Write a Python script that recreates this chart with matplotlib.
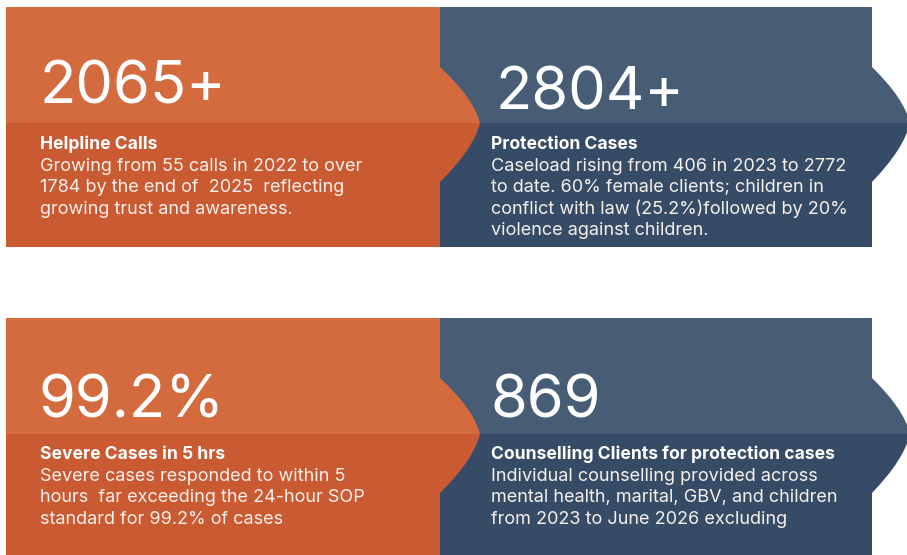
import matplotlib.pyplot as plt
from matplotlib.path import Path
from matplotlib.patches import PathPatch, Rectangle

plt.rcParams['font.family'] = ['Inter', 'DejaVu Sans']

# card contents
values = ["2065+", "2804+", "99.2%", "869"]
titles = ["Helpline Calls", "Protection Cases",
          "Severe Cases in 5 hrs", "Counselling Clients for protection cases"]
descriptions = [
    ["Growing from 55 calls in 2022 to over",
     "1784 by the end of  2025  reflecting",
     "growing trust and awareness."],
    ["Caseload rising from 406 in 2023 to 2772",
     "to date. 60% female clients; children in",
     "conflict with law (25.2%)followed by 20%",
     "violence against children."],
    ["Severe cases responded to within 5",
     "hours  far exceeding the 24-hour SOP",
     "standard for 99.2% of cases"],
    ["Individual counselling provided across",
     "mental health, marital, GBV, and children",
     "from 2023 to June 2026 excluding"],
]

orange_top, orange_bot = "#d46b3e", "#c95a32"
blue_top, blue_bot = "#475d75", "#364c66"

fig = plt.figure(figsize=(9.07, 5.55), dpi=100)
ax = fig.add_axes([0, 0, 1, 1])
ax.set_xlim(0, 907)
ax.set_ylim(555, 0)
ax.axis("off")


def card(x0, x1, top, bottom, split, tip, c_top, c_bot, z):
    # rectangle with a pointed, curved arrow on the right side
    b0, b1 = split - 56, split + 59
    w = tip - x1
    verts = [(x0, top), (x1, top), (x1, b0),
             (x1 + 0.84 * w, split - 25), (tip, split),
             (x1 + 0.84 * w, split + 26), (x1, b1),
             (x1, bottom), (x0, bottom), (x0, top)]
    codes = [Path.MOVETO, Path.LINETO, Path.LINETO,
             Path.CURVE3, Path.CURVE3,
             Path.CURVE3, Path.CURVE3,
             Path.LINETO, Path.LINETO, Path.CLOSEPOLY]
    path = Path(verts, codes)
    for c, (ya, yb) in [(c_top, (top - 5, split)), (c_bot, (split, bottom + 5))]:
        p = PathPatch(path, facecolor=c, edgecolor="none", zorder=z)
        ax.add_patch(p)
        clip = Rectangle((x0 - 5, ya), 1000, yb - ya, transform=ax.transData)
        p.set_clip_path(clip)


rows = [(7, 247, 123), (318, 560, 434)]
for top, bottom, split in rows:
    card(440, 872, top, bottom, split, 910, blue_top, blue_bot, 1)
    card(6, 440, top, bottom, split, 480, orange_top, orange_bot, 2)

num_pos = [(40, 103), (495, 110), (38, 418), (490, 418)]
text_x = [40, 491, 40, 491]
title_y = [149, 149, 459, 459]

for i in range(4):
    nx, ny = num_pos[i]
    ax.text(nx, ny, values[i], color="white", fontsize=43, va="baseline",
            ha="left", zorder=5)
    ax.text(text_x[i], title_y[i], titles[i], color="white", fontsize=12.6,
            fontweight="bold", va="baseline", ha="left", zorder=5)
    for j, line in enumerate(descriptions[i]):
        ax.text(text_x[i], title_y[i] + 21.6 * (j + 1), line, color="#f6f0ec",
                fontsize=13, va="baseline", ha="left", zorder=5)

fig.savefig("out.png", dpi=100, facecolor="white")
